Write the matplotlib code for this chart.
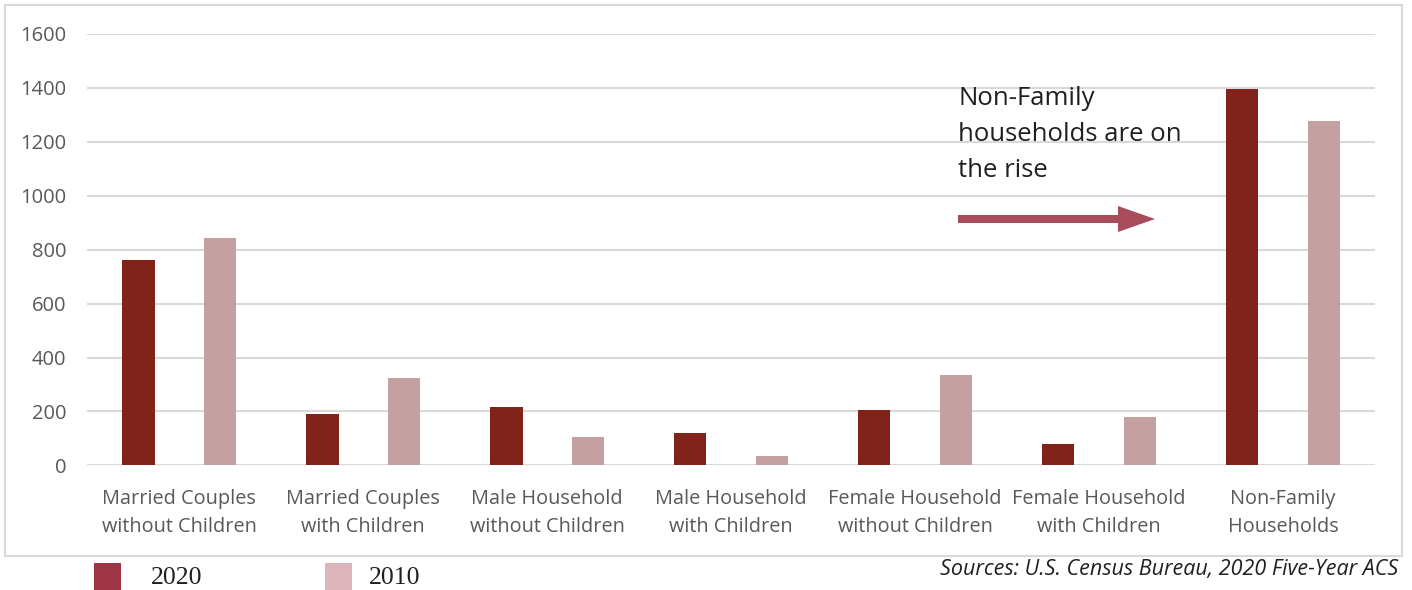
import matplotlib.pyplot as plt
import numpy as np
from matplotlib.patches import Rectangle, FancyArrow

# household counts by type
categories = [
    "Married Couples\nwithout Children",
    "Married Couples\nwith Children",
    "Male Household\nwithout Children",
    "Male Household\nwith Children",
    "Female Household\nwithout Children",
    "Female Household\nwith Children",
    "Non-Family\nHouseholds",
]
values_2020 = [760, 190, 215, 120, 205, 80, 1396]
values_2010 = [845, 325, 105, 35, 335, 180, 1278]
series_names = ["2020", "2010"]
y_ticks = [0, 200, 400, 600, 800, 1000, 1200, 1400, 1600]

# colours
BAR_2020 = "#7F231B"
BAR_2010 = "#C5A0A0"
KEY_2020 = "#9E3547"
KEY_2010 = "#DDB5BA"
ARROW = "#A84B5A"
GRID = "#D9D9D9"
LABEL = "#595959"

SANS = ["Open Sans", "DejaVu Sans"]

fig = plt.figure(figsize=(14.12, 5.9), dpi=100)
ax = fig.add_axes([0.0618, 0.2112, 0.9120, 0.7312])

# outer chart border
fig.patches.append(Rectangle((5 / 1412, 1 - 556 / 590), 1397 / 1412, 551 / 590,
                             transform=fig.transFigure, fill=False,
                             edgecolor=GRID, linewidth=1.5, zorder=0))

x = np.arange(len(categories))
offset = 0.222
width = 0.176
ax.bar(x - offset, values_2020, width, color=BAR_2020, zorder=3)
ax.bar(x + offset, values_2010, width, color=BAR_2010, zorder=3)

ax.set_xlim(-0.5, len(categories) - 0.5)
ax.set_ylim(0, 1600)
ax.set_yticks(y_ticks)
ax.set_yticklabels([str(t) for t in y_ticks], family=SANS, fontsize=14.5, color=LABEL)
ax.set_xticks(x)
ax.set_xticklabels(categories, family=SANS, fontsize=14.3, color=LABEL, linespacing=1.55)
ax.tick_params(axis="both", length=0)
ax.tick_params(axis="y", pad=15)
ax.tick_params(axis="x", pad=17)
ax.yaxis.grid(True, color=GRID, linewidth=1.5, zorder=0)
for s in ax.spines.values():
    s.set_visible(False)

# call-out text and arrow
fig.text(958 / 1412, 1 - 86 / 590, "Non-Family\nhouseholds are on\nthe rise",
         family=SANS, fontsize=18.5, color="#231F20", va="top", ha="left",
         linespacing=1.57)
fig.patches.append(FancyArrow(958 / 1412, 1 - 219 / 590, 197 / 1412, 0,
                              width=8 / 590, head_width=26 / 590,
                              head_length=37 / 1412, length_includes_head=True,
                              transform=fig.transFigure, color=ARROW, linewidth=0))

# legend keys
for key_x, txt_x, col, name in [(94, 151, KEY_2020, series_names[0]),
                                 (325, 369, KEY_2010, series_names[1])]:
    fig.patches.append(Rectangle((key_x / 1412, 0), 27 / 1412, 27 / 590,
                                 transform=fig.transFigure, color=col, linewidth=0))
    fig.text(txt_x / 1412, 1 - 578 / 590, name, family=["Liberation Serif"],
             fontsize=18.5, color="#231F20", va="center", ha="left")

fig.text(1398 / 1412, 1 - 569 / 590, "Sources: U.S. Census Bureau, 2020 Five-Year ACS",
         family=SANS, style="italic", fontsize=15.5, color="#231F20",
         va="center", ha="right")

fig.savefig("out.png", dpi=100)
